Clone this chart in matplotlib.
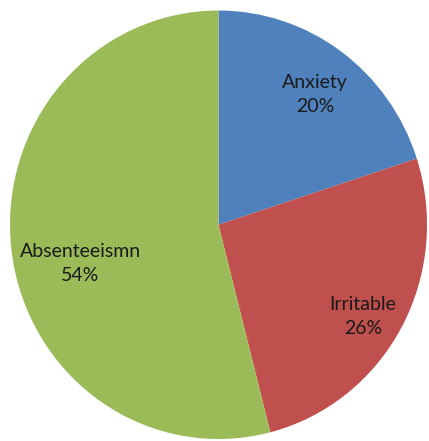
import numpy as np
import matplotlib.pyplot as plt

categories = ['Anxiety', 'Irritable', 'Absenteeismn']
shares = [20, 26, 54]
colors = ['#4F81BD', '#C0504D', '#9BBB59']

# label placement: radius fraction and angle offset (degrees) per slice
label_r = [0.763, 0.816, 0.688]
label_off = [-1.4, -3.0, 7.9]

fig = plt.figure(figsize=(4.29, 4.41), dpi=100)
ax = fig.add_axes([10/429, 2/441, 417/429, 428.5/441])

wedges, _ = ax.pie(shares, colors=colors, startangle=90, counterclock=False,
                   radius=1.0, wedgeprops=dict(linewidth=0))

for w, name, val, r, off in zip(wedges, categories, shares, label_r, label_off):
    ang = np.deg2rad((w.theta1 + w.theta2) / 2 + off)
    ax.text(r*np.cos(ang), r*np.sin(ang), f'{name}\n{val}%', ha='center', va='center',
            fontsize=14, family=['Lato', 'DejaVu Sans'], color='#1a1a1a', linespacing=1.5)

ax.set_xlim(-1, 1)
ax.set_ylim(-1, 1)
ax.set_aspect('auto')
ax.axis('off')

fig.savefig('out.png', dpi=100)
